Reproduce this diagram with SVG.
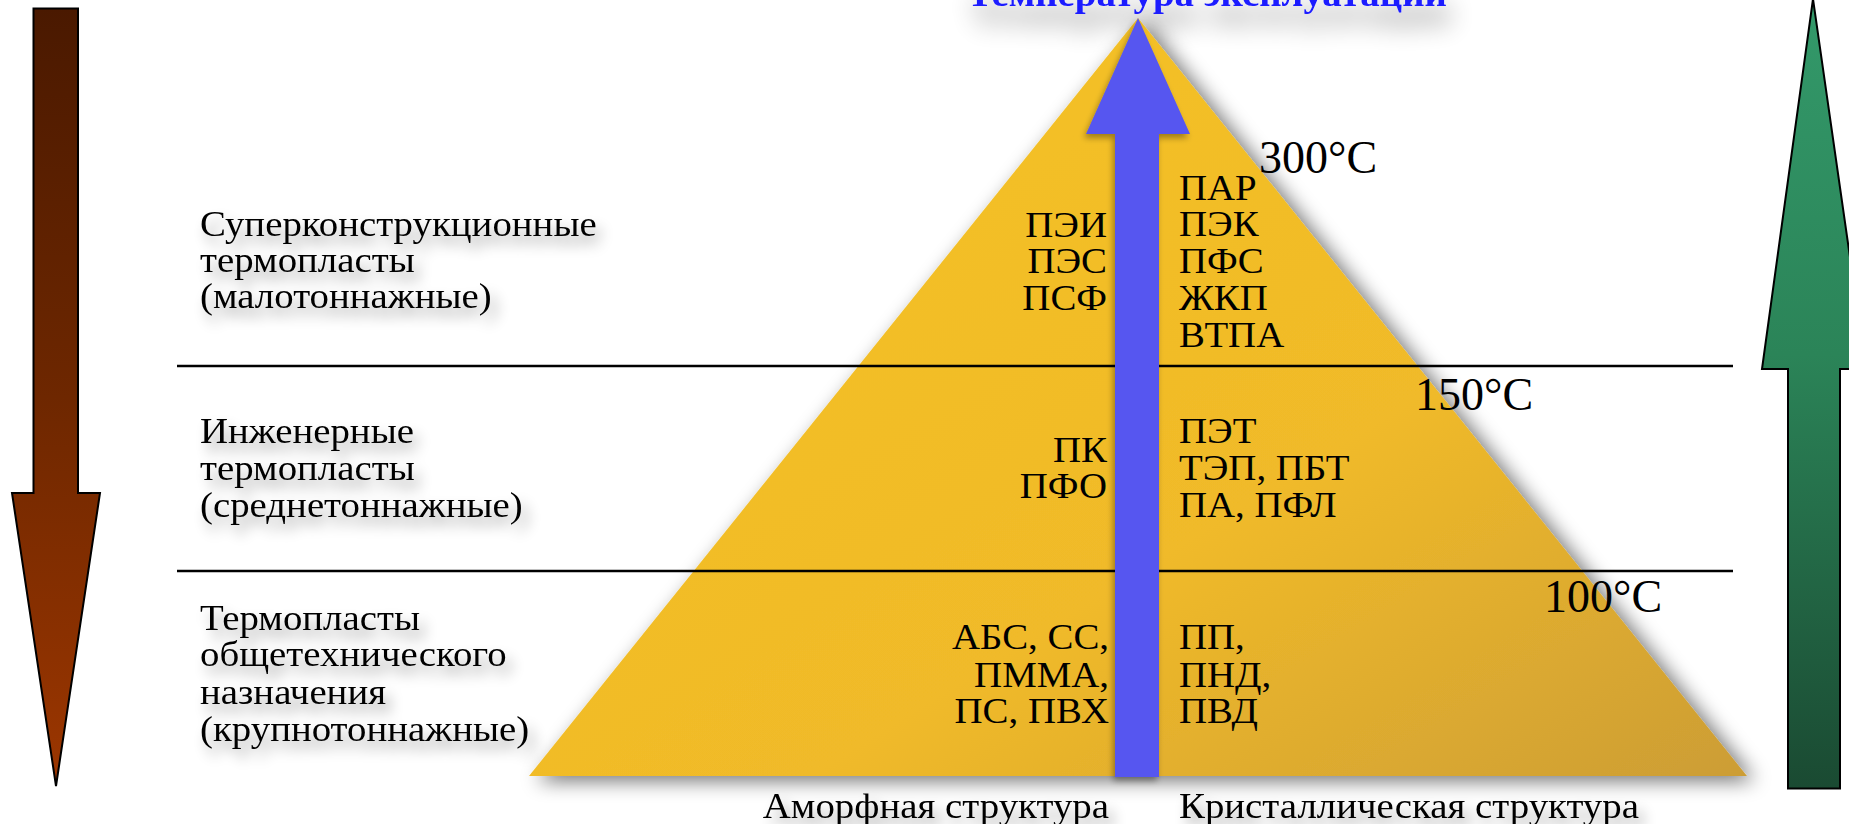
<svg xmlns="http://www.w3.org/2000/svg" width="1849" height="824" viewBox="0 0 1849 824">
<style>
.t{font-family:"Liberation Serif","Times New Roman",serif;font-size:35px;fill:#000}
.tmp{font-family:"Liberation Serif","Times New Roman",serif;font-size:46px;fill:#000}
.title{font-family:"Liberation Serif","Times New Roman",serif;font-size:36px;font-weight:bold;fill:#1a1aff}
.sep{stroke:#000;stroke-width:2.5}
</style>
<defs>
<linearGradient id="gBrown" x1="0" y1="0" x2="0" y2="1">
<stop offset="0" stop-color="#4a1900"/>
<stop offset="0.5" stop-color="#6e2700"/>
<stop offset="1" stop-color="#9c3600"/>
</linearGradient>
<linearGradient id="gGreen" x1="0" y1="0" x2="0" y2="1">
<stop offset="0" stop-color="#33996a"/>
<stop offset="0.45" stop-color="#2b8458"/>
<stop offset="1" stop-color="#1a4a32"/>
</linearGradient>
<linearGradient id="gGold" x1="0.3" y1="0.3" x2="1" y2="1">
<stop offset="0" stop-color="#f3bf26"/>
<stop offset="0.45" stop-color="#f0ba29"/>
<stop offset="1" stop-color="#cc9d35"/>
</linearGradient>
<filter id="shTri" x="-10%" y="-10%" width="125%" height="125%">
<feGaussianBlur in="SourceAlpha" stdDeviation="10"/>
<feOffset dx="8" dy="5"/>
<feComponentTransfer><feFuncA type="linear" slope="0.55"/></feComponentTransfer>
<feMerge><feMergeNode/><feMergeNode in="SourceGraphic"/></feMerge>
</filter>
<filter id="shTxt" x="-20%" y="-80%" width="140%" height="260%">
<feGaussianBlur in="SourceAlpha" stdDeviation="7"/>
<feOffset dx="6" dy="9"/>
<feComponentTransfer><feFuncA type="linear" slope="0.38"/></feComponentTransfer>
<feMerge><feMergeNode/><feMergeNode in="SourceGraphic"/></feMerge>
</filter>
<filter id="shTitle" x="-20%" y="-100%" width="140%" height="500%">
<feGaussianBlur in="SourceAlpha" stdDeviation="13"/>
<feOffset dx="4" dy="18"/>
<feComponentTransfer><feFuncA type="linear" slope="0.45"/></feComponentTransfer>
<feMerge><feMergeNode/><feMergeNode in="SourceGraphic"/></feMerge>
</filter>
<filter id="shLine" x="-5%" y="-500%" width="110%" height="1100%">
<feGaussianBlur in="SourceAlpha" stdDeviation="5"/>
<feOffset dx="4" dy="7"/>
<feComponentTransfer><feFuncA type="linear" slope="0.55"/></feComponentTransfer>
<feMerge><feMergeNode/><feMergeNode in="SourceGraphic"/></feMerge>
</filter>
<filter id="shBlue" x="-30%" y="-5%" width="160%" height="110%">
<feGaussianBlur in="SourceAlpha" stdDeviation="3"/>
<feOffset dx="-2" dy="4"/>
<feComponentTransfer><feFuncA type="linear" slope="0.35"/></feComponentTransfer>
<feMerge><feMergeNode/><feMergeNode in="SourceGraphic"/></feMerge>
</filter>
</defs>
<rect width="1849" height="824" fill="#fff"/>

<g id="title" filter="url(#shTitle)">
<text class="title" x="967" y="6" textLength="480" lengthAdjust="spacingAndGlyphs">Температура эксплуатации</text>
</g>

<g id="arrow-down">
<path d="M33.5,8.5 H78 V493 H100 L56,786 L12,493 H33.5 Z" fill="url(#gBrown)" stroke="#000" stroke-width="2"/>
</g>
<g id="arrow-up">
<path d="M1813,-1 L1866,369 H1840 V788.5 H1788 V369 H1762 Z" fill="url(#gGreen)" stroke="#000" stroke-width="2"/>
</g>

<g id="pyramid" filter="url(#shTri)">
<path d="M1138,18 L1747,776 L529,776 Z" fill="url(#gGold)"/>
</g>

<g id="levels">
<line class="sep" x1="177" y1="366" x2="1733" y2="366"/>
<line class="sep" x1="177" y1="571" x2="1733" y2="571"/>
<g filter="url(#shLine)"><line x1="177" y1="777" x2="1733" y2="777" stroke="#000" stroke-width="3.5"/></g>
</g>

<g id="temp-arrow" filter="url(#shBlue)">
<path d="M1138,18 L1190,134 H1159 V777 H1115 V134 H1086 Z" fill="#5757f0"/>
</g>

<g id="temps">
<text class="tmp" x="1259" y="173">300°C</text>
<text class="tmp" x="1415" y="410">150°C</text>
<text class="tmp" x="1544" y="612">100°C</text>
</g>

<g id="class-labels" filter="url(#shTxt)">
<text class="t" transform="translate(200,236) scale(1.11,1)">Суперконструкционные</text>
<text class="t" transform="translate(200,272) scale(1.11,1)">термопласты</text>
<text class="t" transform="translate(200,308) scale(1.11,1)">(малотоннажные)</text>
<text class="t" transform="translate(200,443) scale(1.11,1)">Инженерные</text>
<text class="t" transform="translate(200,480) scale(1.11,1)">термопласты</text>
<text class="t" transform="translate(200,517) scale(1.11,1)">(среднетоннажные)</text>
<text class="t" transform="translate(200,630) scale(1.11,1)">Термопласты</text>
<text class="t" transform="translate(200,666) scale(1.11,1)">общетехнического</text>
<text class="t" transform="translate(200,704) scale(1.11,1)">назначения</text>
<text class="t" transform="translate(200,741) scale(1.11,1)">(крупнотоннажные)</text>
</g>

<g id="amorphous" text-anchor="end">
<text class="t" transform="translate(1107,237) scale(1.11,1)">ПЭИ</text>
<text class="t" transform="translate(1107,273) scale(1.11,1)">ПЭС</text>
<text class="t" transform="translate(1107,310) scale(1.11,1)">ПСФ</text>
<text class="t" transform="translate(1107,462) scale(1.11,1)">ПК</text>
<text class="t" transform="translate(1107,498) scale(1.11,1)">ПФО</text>
<text class="t" transform="translate(1109,649) scale(1.11,1)">АБС, СС,</text>
<text class="t" transform="translate(1109,687) scale(1.11,1)">ПММА,</text>
<text class="t" transform="translate(1109,723) scale(1.11,1)">ПС, ПВХ</text>
</g>

<g id="crystalline">
<text class="t" transform="translate(1179,200) scale(1.11,1)">ПАР</text>
<text class="t" transform="translate(1179,236) scale(1.11,1)">ПЭК</text>
<text class="t" transform="translate(1179,273) scale(1.11,1)">ПФС</text>
<text class="t" transform="translate(1179,310) scale(1.11,1)">ЖКП</text>
<text class="t" transform="translate(1179,347) scale(1.11,1)">ВТПА</text>
<text class="t" transform="translate(1179,443) scale(1.11,1)">ПЭТ</text>
<text class="t" transform="translate(1179,480) scale(1.11,1)">ТЭП, ПБТ</text>
<text class="t" transform="translate(1179,517) scale(1.11,1)">ПА, ПФЛ</text>
<text class="t" transform="translate(1179,649) scale(1.11,1)">ПП,</text>
<text class="t" transform="translate(1179,687) scale(1.11,1)">ПНД,</text>
<text class="t" transform="translate(1179,723) scale(1.11,1)">ПВД</text>
</g>

<g id="structure-labels" filter="url(#shTxt)">
<text class="t" text-anchor="end" transform="translate(1109,818) scale(1.11,1)">Аморфная структура</text>
<text class="t" transform="translate(1179,818) scale(1.11,1)">Кристаллическая структура</text>
</g>
</svg>
